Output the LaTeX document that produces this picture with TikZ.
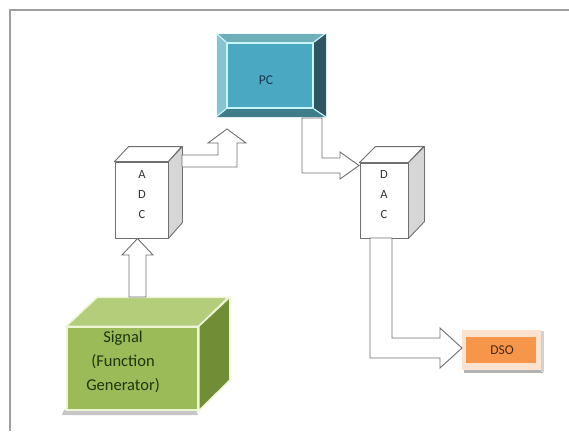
\documentclass[tikz,border=0pt]{standalone}
\usepackage{fontspec}
\setmainfont{Carlito}
\definecolor{pcFace}{HTML}{4AA8C2}
\definecolor{pcTop}{HTML}{6FAFBA}
\definecolor{pcLeft}{HTML}{86C5CF}
\definecolor{pcRight}{HTML}{2E5660}
\definecolor{pcBottom}{HTML}{3E7E8A}
\definecolor{pcEdge}{HTML}{C8F4FB}
\definecolor{pcText}{HTML}{1F3550}
\definecolor{sgFront}{HTML}{9BBB59}
\definecolor{sgTop}{HTML}{B3CD7B}
\definecolor{sgRight}{HTML}{718E37}
\definecolor{sgEdge}{HTML}{EEF5D6}
\definecolor{sgText}{HTML}{1C360A}
\definecolor{dsoFill}{HTML}{F5964A}
\definecolor{dsoEdge}{HTML}{FBE3CF}
\definecolor{dsoText}{HTML}{4A2A10}
\definecolor{lineGray}{HTML}{6F6F6F}
\definecolor{sideGray}{HTML}{D6D6D6}
\tikzset{
  blockarrow/.style={draw=lineGray, fill=white, line width=0.9pt, line join=miter},
  cubeface/.style={draw=lineGray, line width=0.9pt, line join=round},
  letters/.style={font=\fontsize{12.5}{20}\selectfont, align=center, text=black!80},
}
\begin{document}
\begin{tikzpicture}[x=1pt,y=-1pt]
\useasboundingbox (0,0) rectangle (569,431);
\fill[white] (0,0) rectangle (569,431);
% frame
\draw[gray!75, line width=1.3pt] (10,431) -- (10,10) -- (569,10);

% ---------- PC (bevel) ----------
\fill[pcTop] (216,33) -- (326,33) -- (313,43) -- (227,43) -- cycle;
\fill[pcLeft] (216,33) -- (227,43) -- (227,108) -- (216,117) -- cycle;
\fill[pcRight] (326,33) -- (326,117) -- (313,108) -- (313,43) -- cycle;
\fill[pcBottom] (216,117) -- (326,117) -- (313,108) -- (227,108) -- cycle;
\node[fill=pcFace, draw=pcEdge, line width=2pt, minimum width=86pt, minimum height=65pt, inner sep=0pt] (pc) at (270,75.5) {};
\draw[pcEdge, line width=1.2pt] (216,33) -- (pc.north west) (326,33) -- (pc.north east)
  (326,117) -- (pc.south east) (216,117) -- (pc.south west);
\draw[white!70!pcEdge, line width=1pt] (216,117) -- (216,33) -- (326,33);
\node[font=\fontsize{13.5}{15}\selectfont, text=pcText] (pctext) at (266,80) {PC};

% ---------- ADC cube ----------
\node[cubeface, fill=white, minimum width=53pt, minimum height=76pt, inner sep=0pt] (adc) at (141.5,200) {};
\filldraw[cubeface, fill=white] (adc.north west) -- ++(14,-15) -- ++(53,0) -- (adc.north east) -- cycle;
\filldraw[cubeface, fill=sideGray] (adc.north east) -- ++(14,-15) -- ++(0,76) -- (adc.south east) -- cycle;
\node[letters] (adctext) at (142,195) {A\\D\\C};

% ---------- DAC cube ----------
\node[cubeface, fill=white, minimum width=48pt, minimum height=75pt, inner sep=0pt] (dac) at (384,200.5) {};
\filldraw[cubeface, fill=white] (dac.north west) -- ++(16,-16) -- ++(48,0) -- (dac.north east) -- cycle;
\filldraw[cubeface, fill=sideGray] (dac.north east) -- ++(16,-16) -- ++(0,75) -- (dac.south east) -- cycle;
\node[letters] (dactext) at (384,195) {D\\A\\C};

% ---------- Signal cube ----------
\fill[gray!45] (64,410) -- (196,410) -- (198,415) -- (62,415) -- cycle;
\node[fill=sgFront, draw=sgEdge, line width=1.5pt, minimum width=131pt, minimum height=83pt, inner sep=0pt] (sig) at (132.5,368.5) {};
\filldraw[fill=sgTop, draw=sgEdge, line width=1.5pt] (sig.north west) -- ++(31,-29) -- ++(131,0) -- (sig.north east) -- cycle;
\filldraw[fill=sgRight, draw=sgEdge, line width=1.5pt] (sig.north east) -- ++(31,-29) -- ++(0,83) -- (sig.south east) -- cycle;
\node[font=\fontsize{16.5}{24}\selectfont, text=sgText, align=center] (sigtext) at (123,362) {Signal\\(Function\\Generator)};

% ---------- DSO ----------
\fill[gray!60] (464,370) rectangle (543,372.5);
\fill[gray!35] (541,331) rectangle (543.5,372);
\node[fill=dsoEdge, minimum width=79pt, minimum height=40pt, inner sep=0pt] (dso) at (501.5,350) {};
\fill[dsoFill] (466,337) rectangle (536,363);
\node[font=\fontsize{13.5}{15}\selectfont, text=dsoText] (dsotext) at (502,350) {DSO};

% ---------- block arrows ----------
% Signal -> ADC
\filldraw[blockarrow] (129,297) -- (129,255) -- (122,255) -- (137.5,238.5) -- (153,255) -- (146,255) -- (146,297) -- cycle;
% ADC -> PC
\filldraw[blockarrow] (182,155) -- (218,155) -- (218,143) -- (208,143) -- (227,129) -- (246,143) -- (237,143) -- (237,167) -- (182,167) -- cycle;
% PC -> DAC
\filldraw[blockarrow] (302,118) -- (322,118) -- (322,158) -- (340,158) -- (340,152) -- (359,165.5) -- (340,179) -- (340,173) -- (302,173) -- cycle;
% DAC -> DSO
\filldraw[blockarrow] (370,238) -- (392,238) -- (392,338) -- (440,338) -- (440,328) -- (462,348) -- (440,368) -- (440,358) -- (370,358) -- cycle;
\end{tikzpicture}
\end{document}
